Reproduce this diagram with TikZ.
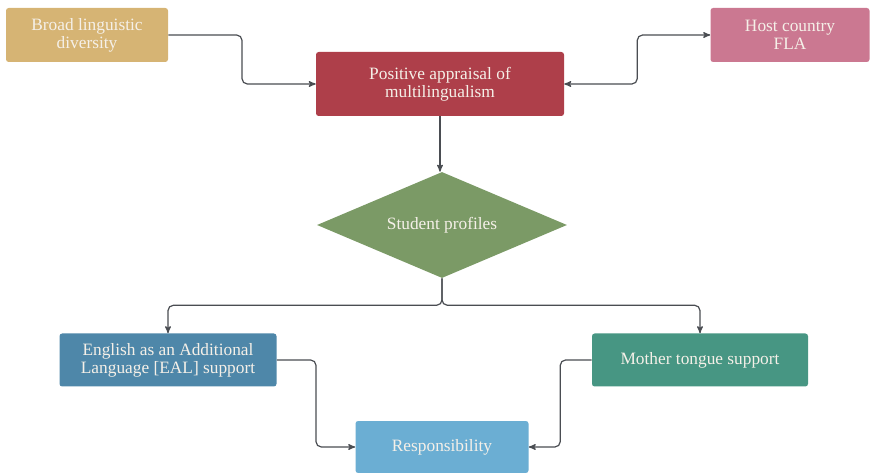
\documentclass[tikz,border=0pt]{standalone}
\usepackage{fontspec}
\setmainfont{Liberation Serif}
\usetikzlibrary{arrows,shapes.geometric,calc}

\definecolor{broadcol}{HTML}{D6B474}
\definecolor{appraisalcol}{HTML}{AE3F4A}
\definecolor{hostcol}{HTML}{CB7891}
\definecolor{profilecol}{HTML}{7B9A66}
\definecolor{ealcol}{HTML}{4E87A9}
\definecolor{mothercol}{HTML}{479683}
\definecolor{respcol}{HTML}{6BAED3}
\definecolor{linecol}{HTML}{4A4D52}
\definecolor{textcol}{HTML}{F5F0E8}

\begin{document}
\begin{tikzpicture}[scale=1]
		\tikzstyle{VertexStyle} = [shape=rectangle, rounded corners=2pt, inner sep=0pt, align=center,
		                           text=textcol, font=\fontsize{13}{13.5}\selectfont]
		\tikzstyle{EdgeStyle}   = [->, >=stealth', draw=linecol, line width=0.9pt, rounded corners=4pt]
		
		\useasboundingbox (0,0) rectangle (652.5pt,-354.75pt);
		\node[VertexStyle, fill=broadcol, minimum width=121.5pt, minimum height=40.5pt] (Broad) at (65.25pt,-26.25pt) {Broad linguistic\\diversity};
		\node[VertexStyle, fill=appraisalcol, minimum width=186pt, minimum height=48pt] (Appraisal) at (330pt,-63pt) {Positive appraisal of\\multilingualism};
		\node[VertexStyle, fill=hostcol, minimum width=119.25pt, minimum height=40.5pt] (Host) at (592.5pt,-26.25pt) {Host country\\FLA};
		\node[VertexStyle, shape=diamond, aspect=2.36, rounded corners=0pt, fill=profilecol, minimum width=187.5pt, minimum height=79.5pt] (Profiles) at (331.5pt,-168.75pt) {Student profiles};
		\node[VertexStyle, fill=ealcol, minimum width=162.75pt, minimum height=39.75pt] (EAL) at (126pt,-270pt) {English as an Additional\\Language [EAL] support};
		\node[VertexStyle, fill=mothercol, minimum width=162pt, minimum height=39.75pt] (Mother) at (525pt,-270pt) {Mother tongue support};
		\node[VertexStyle, fill=respcol, minimum width=129.75pt, minimum height=39pt] (Responsibility) at (331.5pt,-335.25pt) {Responsibility};
		
		\coordinate (BA) at ($(Broad.east)!0.5!(Appraisal.west)$);
		\coordinate (AH) at ($(Appraisal.east)!0.5!(Host.west)$);
		\coordinate (Split) at ($(Profiles.south)+(0,-20.25pt)$);
		\coordinate (ER) at ($(EAL.east)!0.5!(Responsibility.west)$);
		\coordinate (MR) at ($(Mother.west)!0.5!(Responsibility.east)$);
		
		\draw[EdgeStyle] (Broad.east) -| (BA) |- (Appraisal.west);
		\draw[EdgeStyle, <->] (Appraisal.east) -| (AH) |- (Host.west);
		\draw[EdgeStyle] (Appraisal.south) -- (Appraisal.south |- Profiles.north);
		\draw[EdgeStyle] (Profiles.south) -- (Split) -| (EAL.north);
		\draw[EdgeStyle] (Profiles.south) -- (Split) -| (Mother.north);
		\draw[EdgeStyle] (EAL.east) -| (ER) |- (Responsibility.west);
		\draw[EdgeStyle] (Mother.west) -| (MR) |- (Responsibility.east);
	\end{tikzpicture}
\end{document}
